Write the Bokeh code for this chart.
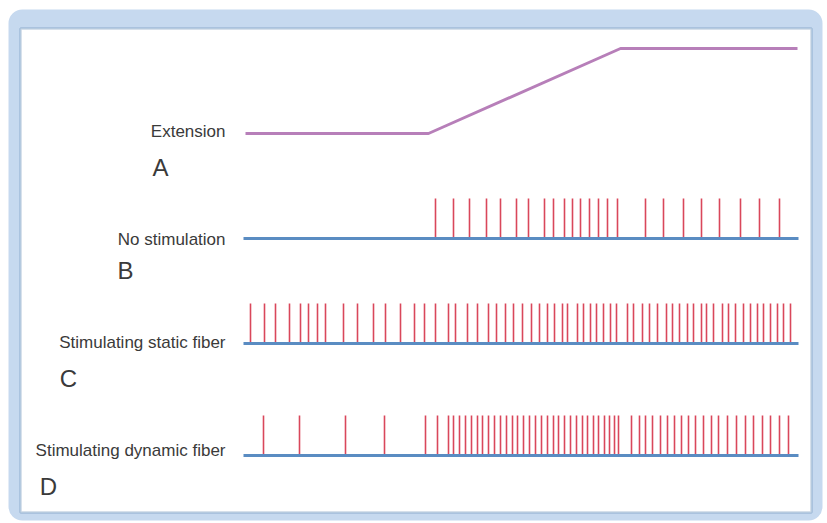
from bokeh.plotting import figure
from bokeh.models import Range1d, BoxAnnotation
from bokeh.core.properties import value
from bokeh.embed import file_html
from bokeh.resources import INLINE

# ---- data (time axis in arbitrary units, ~pixel scale) ----
ext_time = [245, 428, 620, 797]
ext_level = [0, 0, 1, 1]          # 0 = rest length, 1 = stretched

trace_start = 243
trace_end = 797

spikes_b = [435, 453, 469, 486, 500, 516, 528, 544, 553, 564, 572, 580, 589, 598,
            607, 617, 645, 663, 683, 701, 719, 740, 759, 779]

spikes_c = [250, 264, 275, 289, 300, 308, 317, 325, 343, 357, 373, 385, 400, 414,
            424, 435, 448, 455, 467, 477, 488, 496, 505, 513, 522, 531, 539, 547,
            554, 562, 567, 577, 583, 590, 596, 603, 610, 616, 627, 633, 642, 649,
            657, 666, 672, 679, 687, 693, 701, 706, 713, 722, 728, 735, 743, 750,
            757, 763, 770, 777, 783, 790]

spikes_d = [263, 299, 345, 384, 425, 437, 448, 453, 459, 465, 471, 477, 482, 488,
            494, 500, 506, 512, 517, 523, 529, 535, 541, 547, 553, 558, 564, 570,
            576, 582, 587, 593, 598, 604, 609, 614, 618, 631, 639, 645, 652, 660,
            667, 674, 681, 688, 695, 703, 711, 718, 727, 736, 745, 753, 762, 770,
            779, 788]

row_labels = ["Extension", "No stimulation", "Stimulating static fiber",
              "Stimulating dynamic fiber"]
row_letters = ["A", "B", "C", "D"]

# ---- layout (page-pixel coordinates) ----
W, H = 826, 522
p = figure(width=W, height=H, output_backend="svg", toolbar_location=None,
           x_range=Range1d(0, W), y_range=Range1d(H, 0),
           min_border=0, border_fill_color="white", background_fill_color="white")
p.axis.visible = False
p.grid.visible = False
p.outline_line_color = None

# frame
p.add_layout(BoxAnnotation(left=8, right=822, top=9, bottom=520,
                           fill_color="#c6d9ef", fill_alpha=1.0, line_color=None,
                           border_radius=14, level="underlay"))
p.add_layout(BoxAnnotation(left=20, right=811, top=28, bottom=512,
                           fill_color="white", fill_alpha=1.0,
                           line_color="#4d79a8", line_width=2.5, level="underlay"))

baselines = [None, 238, 343, 455]
spike_h = 40
ext_low, ext_high = 133, 48

# A: extension trace
ext_y = [ext_low - lv * (ext_low - ext_high) for lv in ext_level]
p.line(ext_time, ext_y, line_color="#b77fb9", line_width=3)

# B, C, D traces
for base, spikes in zip(baselines[1:], [spikes_b, spikes_c, spikes_d]):
    p.segment(x0=spikes, x1=spikes, y0=[base] * len(spikes),
              y1=[base - spike_h] * len(spikes), line_color="#d9475b", line_width=1.6)
    p.line([trace_start, trace_end + 1], [base, base], line_color="#5a8cc2", line_width=3)

# labels
font = value("Liberation Sans")
label_y = [131, 239, 342, 450]
p.text(x=[225] * 4, y=label_y, text=row_labels, text_align="right",
       text_baseline="alphabetic", text_font=font,
       text_font_size="17px", text_color="#3a3a3a")

letter_x = [160, 125, 68, 48]
letter_y = [167, 270, 378, 486]
p.text(x=letter_x, y=letter_y, text=row_letters, text_align="center",
       text_baseline="alphabetic", text_font=font,
       text_font_size="24px", text_color="#3a3a3a")

open("out.html", "w").write(file_html(p, INLINE))
